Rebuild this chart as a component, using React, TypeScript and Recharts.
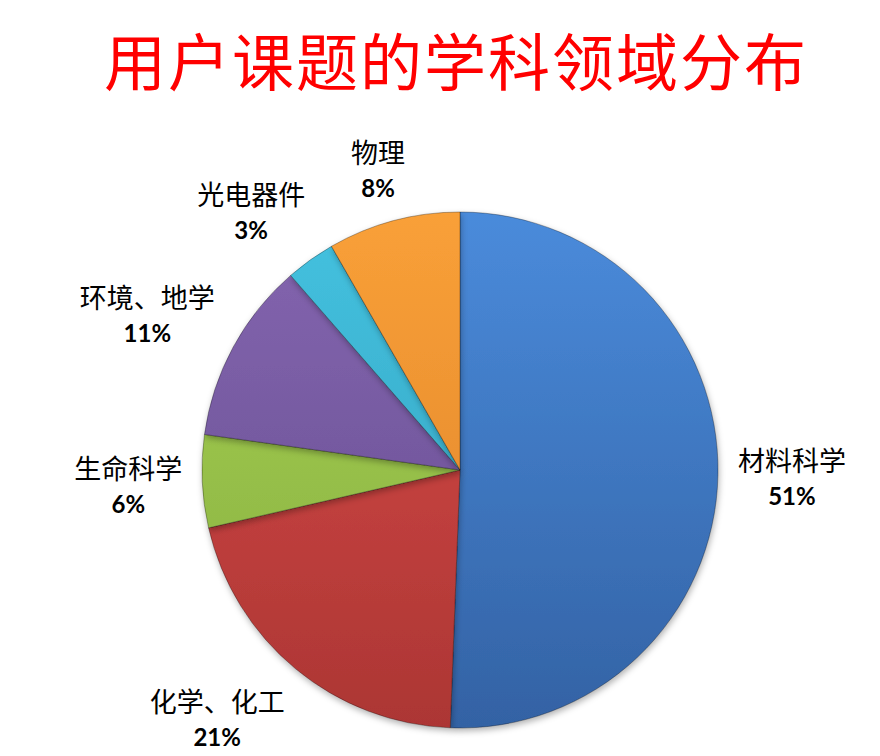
import React from 'react';
import { PieChart, Pie, Cell } from 'recharts';

const names = ['材料科学', '化学、化工', '生命科学', '环境、地学', '光电器件', '物理'];
const shares = [50.6, 20.8, 5.8, 11.4, 3.1, 8.3];
const topColors = ['#4A8BDB', '#DA4B48', '#A8D255', '#8566B0', '#45C2E0', '#F9A038'];
const bottomColors = ['#3362A4', '#AC3634', '#85AD3D', '#634B8E', '#2F9DBA', '#DD8229'];

const data = names.map((name, i) => ({ name, value: shares[i] }));

const RADIAN = Math.PI / 180;
const CX = 460;
const CY = 470;
const R = 258;

const nameFont = '"Noto Sans CJK SC", "Noto Sans", sans-serif';
const pctFont = 'Lato, "Open Sans", sans-serif';

const clamp = (v: number) => Math.max(-1, Math.min(1, v));

const renderLabel = (props: any) => {
  const { cx, cy, midAngle, outerRadius, name, value } = props;
  const ux = Math.cos(-midAngle * RADIAN);
  const uy = Math.sin(-midAngle * RADIAN);
  const w = String(name).length * 28;
  const h = 70;
  // anchor just outside the rim, then push the label box away from it
  const px = cx + (outerRadius + 18) * ux;
  const py = cy + (outerRadius + 18) * uy;
  const x = px + clamp(ux * 1.5) * w / 2;
  const y = py + clamp(uy * 1.5) * h / 2;
  return (
    <g>
      <text x={x} y={y - 17} textAnchor="middle" dominantBaseline="central"
        fontFamily={nameFont} fontSize={27} fill="#000">
        {name}
      </text>
      <text x={x} y={y + 19} textAnchor="middle" dominantBaseline="central"
        fontFamily={pctFont} fontWeight={700} fontSize={24} fill="#000">
        {Math.round(value)}%
      </text>
    </g>
  );
};

export default function App() {
  return (
    <div style={{ position: 'relative', width: 880, height: 756, margin: -8, background: '#fff' }}>
      <div
        style={{
          position: 'absolute',
          top: 19,
          left: 0,
          width: 912,
          textAlign: 'center',
          fontFamily: nameFont,
          fontSize: 62,
          letterSpacing: 2,
          color: '#FF0000',
          lineHeight: '80px',
        }}
      >
        用户课题的学科领域分布
      </div>
      <PieChart width={880} height={756} margin={{ top: 0, right: 0, bottom: 0, left: 0 }}
        style={{ position: 'absolute', top: 0, left: 0 }}>
        <defs>
          {names.map((n, i) => (
            <linearGradient key={n} id={`grad${i}`} gradientUnits="userSpaceOnUse"
              x1={0} y1={CY - R} x2={0} y2={CY + R}>
              <stop offset="0%" stopColor={topColors[i]} />
              <stop offset="100%" stopColor={bottomColors[i]} />
            </linearGradient>
          ))}
          <filter id="shadow" x="-10%" y="-10%" width="120%" height="120%">
            <feDropShadow dx={1} dy={3} stdDeviation={3} floodColor="#000" floodOpacity={0.3} />
          </filter>
        </defs>
        <Pie
          data={data}
          dataKey="value"
          nameKey="name"
          cx={CX}
          cy={CY}
          outerRadius={R}
          startAngle={90}
          endAngle={-270}
          label={renderLabel}
          labelLine={false}
          isAnimationActive={false}
          stroke="rgba(0,0,0,0.3)"
          strokeWidth={1}
          style={{ filter: 'url(#shadow)' }}
        >
          {data.map((d, i) => (
            <Cell key={d.name} fill={`url(#grad${i})`} />
          ))}
        </Pie>
      </PieChart>
    </div>
  );
}
